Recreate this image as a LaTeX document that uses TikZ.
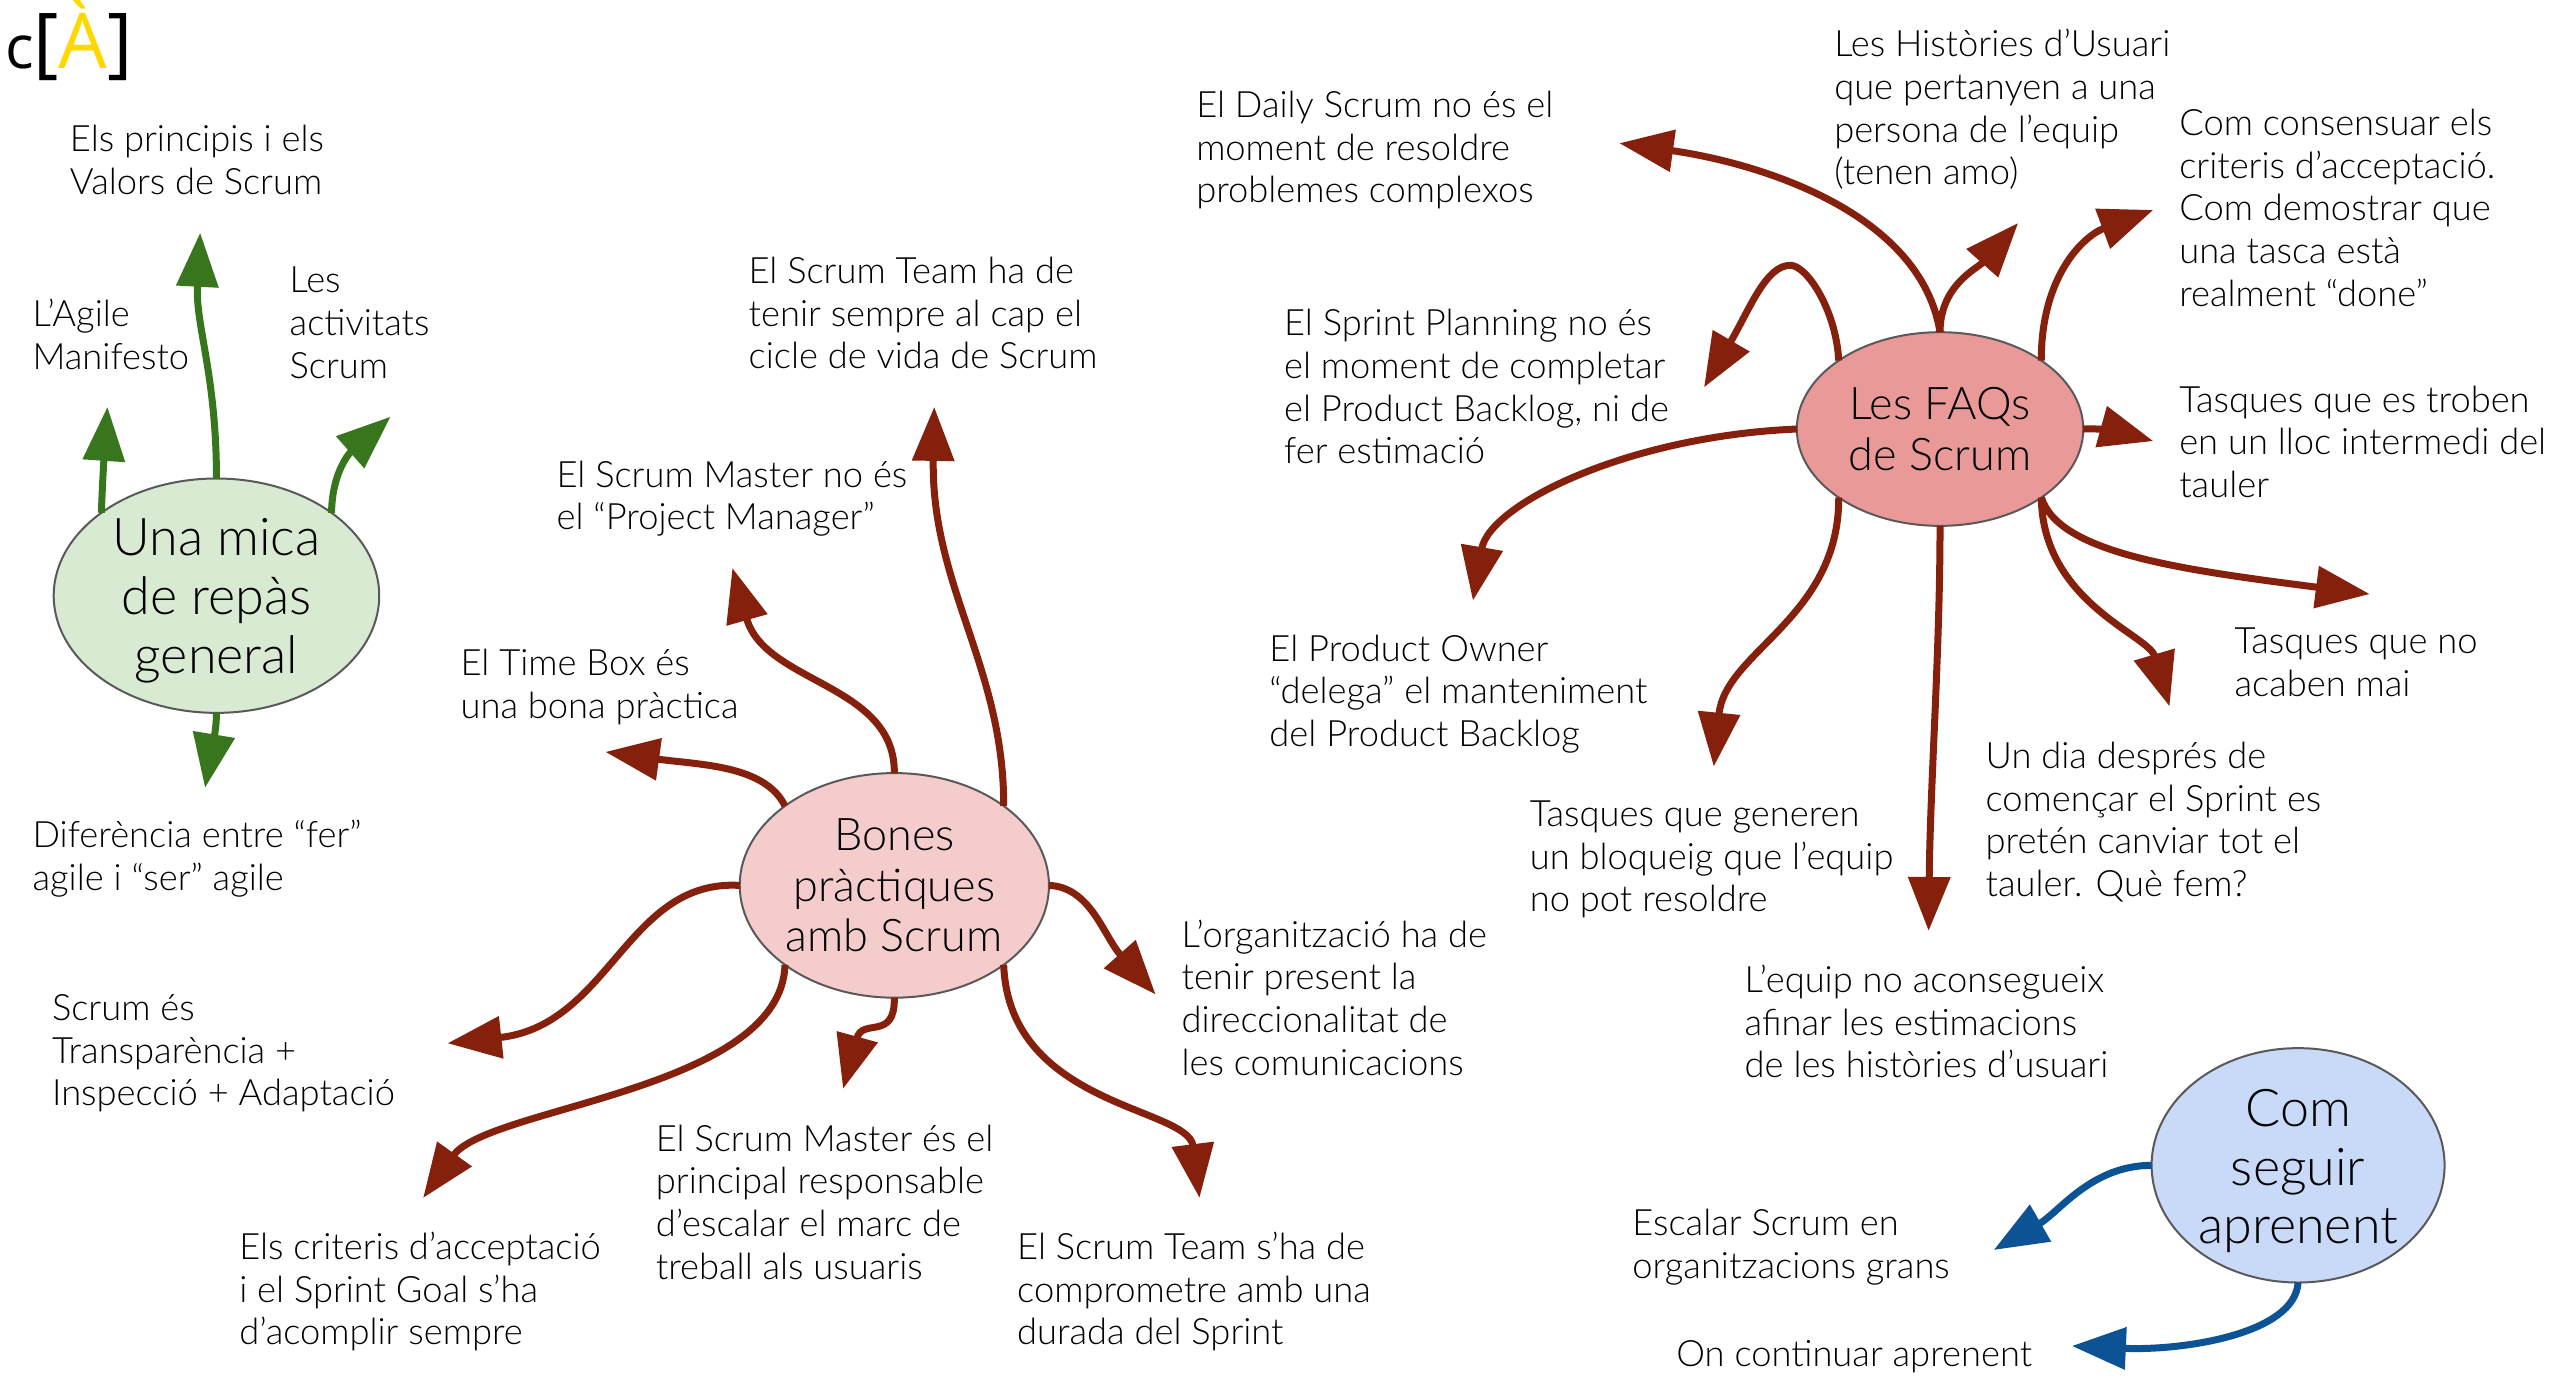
\documentclass[tikz,border=0pt]{standalone}
\usepackage{fontspec}
\setmainfont{Lato}[UprightFont=* Light]
\newfontfamily\logofont{Open Sans}
\usetikzlibrary{arrows.meta,shapes.geometric}
\definecolor{gr}{HTML}{38761D}
\definecolor{rd}{HTML}{85200C}
\definecolor{bl}{HTML}{0B5394}
\definecolor{logoy}{HTML}{FFD800}
\definecolor{hubgreen}{HTML}{D9EAD3}
\definecolor{hubpink}{HTML}{F4CCCC}
\definecolor{hubred}{HTML}{EA9999}
\definecolor{hubblue}{HTML}{C9DAF8}
\tikzset{
  x=1.6275pt,y=-1.6275pt,
  txt/.style={anchor=north west,inner sep=0,outer sep=0,align=left,text=black,
    font=\fontsize{36.3}{42.7}\selectfont,execute at begin node=\strut,execute at end node=\strut},
  hub/.style={ellipse,draw=black!65,line width=2pt,inner sep=0,outer sep=0,align=center},
  hubA/.style={hub,font=\fontsize{52}{58.6}\selectfont},
  hubB/.style={hub,font=\fontsize{45}{50.5}\selectfont},
  hubLabel/.style={inner sep=0,outer sep=0,align=center,font=\fontsize{52}{58.6}\selectfont},
  arr/.style={line width=7pt,-{Triangle[length=54pt,width=41pt]}},
  ga/.style={arr,gr},ra/.style={arr,rd},ba/.style={arr,bl}
}
\begin{document}
\begin{tikzpicture}
\useasboundingbox (0,0) rectangle (1567.4,846.1);
\node[anchor=base west,inner sep=0] (logo) at (3,41.8) {\logofont\fontsize{60}{60}\selectfont c\fontsize{77}{77}\selectfont[\textcolor{logoy}{À}]};

\node[hubA,fill=hubgreen,minimum width=200*1.6275pt,minimum height=144*1.6275pt,
  label={[hubLabel,yshift=-5pt]center:Una mica\\de repàs\\general}] (mica) at (133,366) {};
\node[hubB,fill=hubpink,minimum width=190*1.6275pt,minimum height=138*1.6275pt] (bones) at (549.5,544) {Bones\\pràctiques\\amb Scrum};
\node[hubB,fill=hubred,minimum width=176*1.6275pt,minimum height=119*1.6275pt] (faq) at (1192,263.6) {Les FAQs\\de Scrum};
\node[hubA,fill=hubblue,minimum width=180*1.6275pt,minimum height=144*1.6275pt,
  label={[hubLabel,yshift=-6pt]center:Com\\seguir\\aprenent}] (seguir) at (1412,716) {};

\coordinate (g1) at (123,143);
\coordinate (g2) at (66,250);
\coordinate (g3) at (240,256);
\coordinate (g4) at (126,484);
\draw[ga] (mica.north) .. controls (133,230) and (120,200) .. (g1);
\draw[ga] (mica.north west) .. controls (63,295) and (64,280) .. (g2);
\draw[ga] (mica.north east) .. controls (204,290) and (215,278) .. (g3);
\draw[ga] (mica.south) .. controls (133,450) and (130,460) .. (g4);

\coordinate (b1) at (450,349);
\coordinate (b2) at (574,250);
\coordinate (b3) at (372,462);
\coordinate (b4) at (275,641);
\coordinate (b5) at (260,736);
\coordinate (b6) at (518,669);
\coordinate (b7) at (737,736);
\coordinate (b8) at (710,611);
\draw[ra] (bones.north) .. controls (550,420) and (470,420) .. (b1);
\draw[ra] (bones.north east) .. controls (617,410) and (572,360) .. (b2);
\draw[ra] (bones.north west) .. controls (470,470) and (430,470) .. (b3);
\draw[ra] (bones.west) .. controls (385,540) and (375,630) .. (b4);
\draw[ra] (bones.south west) .. controls (480,670) and (300,680) .. (b5);
\draw[ra] (bones.south) .. controls (550,640) and (530,625) .. (b6);
\draw[ra] (bones.south east) .. controls (620,680) and (730,680) .. (b7);
\draw[ra] (bones.east) .. controls (670,545) and (678,575) .. (b8);

\coordinate (f1) at (995,88);
\coordinate (f2) at (1240,137);
\coordinate (f3) at (1047,238);
\coordinate (f4) at (1323,129);
\coordinate (f5) at (1323,271);
\coordinate (f6) at (905,369);
\coordinate (f7) at (1053,471);
\coordinate (f8) at (1185,572);
\coordinate (f9) at (1333,434);
\coordinate (f10) at (1456,365);
\draw[ra] (faq.north) .. controls (1180,130) and (1080,100) .. (f1);
\draw[ra] (faq.north) .. controls (1192,175) and (1215,165) .. (f2);
\draw[ra] (faq.north west) .. controls (1128,190) and (1110,163) .. (1100,163) .. controls (1085,163) and (1075,190) .. (f3);
\draw[ra] (faq.north east) .. controls (1254,170) and (1280,145) .. (f4);
\draw[ra] (faq.east) .. controls (1295,263) and (1305,266) .. (f5);
\draw[ra] (faq.west) .. controls (1000,268) and (915,310) .. (f6);
\draw[ra] (faq.south west) .. controls (1130,380) and (1060,400) .. (f7);
\draw[ra] (faq.south) .. controls (1192,400) and (1186,480) .. (f8);
\draw[ra] (faq.south east) .. controls (1255,370) and (1320,390) .. (f9);
\draw[ra] (faq.south east) .. controls (1265,340) and (1340,350) .. (f10);

\coordinate (s1) at (1225,768);
\coordinate (s2) at (1273,827);
\draw[ba] (seguir.west) .. controls (1285,716) and (1265,745) .. (s1);
\draw[ba] (seguir.south) .. controls (1410,820) and (1340,830) .. (s2);

\node[txt] (t1) at (43,77) {Els principis i els\\Valors de Scrum};
\node[txt] (t2) at (20,184) {L’Agile\\Manifesto};
\node[txt] (t3) at (178,164) {Les\\activitats\\Scrum};
\node[txt] (t4) at (20,504) {Diferència entre “fer”\\agile i “ser” agile};
\node[txt] (t5) at (460,158) {El Scrum Team ha de\\tenir sempre al cap el\\cicle de vida de Scrum};
\node[txt] (t6) at (342,283) {El Scrum Master no és\\el “Project Manager”};
\node[txt] (t7) at (283,399) {El Time Box és\\una bona pràctica};
\node[txt] (t8) at (32,611) {Scrum és\\Transparència +\\Inspecció + Adaptació};
\node[txt] (t9) at (147,757) {Els criteris d’acceptació\\i el Sprint Goal s’ha\\d’acomplir sempre};
\node[txt] (t10) at (403,691) {El Scrum Master és el\\principal responsable\\d’escalar el marc de\\treball als usuaris};
\node[txt] (t11) at (625,757) {El Scrum Team s’ha de\\comprometre amb una\\durada del Sprint};
\node[txt] (t12) at (726,565) {L’organització ha de\\tenir present la\\direccionalitat de\\les comunicacions};
\node[txt] (t13) at (735,56) {El Daily Scrum no és el\\moment de resoldre\\problemes complexos};
\node[txt] (t14) at (1127,18) {Les Històries d’Usuari\\que pertanyen a una\\persona de l’equip\\(tenen amo)};
\node[txt] (t15) at (1339,67) {Com consensuar els\\criteris d’acceptació.\\Com demostrar que\\una tasca està\\realment “done”};
\node[txt] (t16) at (789,190) {El Sprint Planning no és\\el moment de completar\\el Product Backlog, ni de\\fer estimació};
\node[txt] (t17) at (1339,237) {Tasques que es troben\\en un lloc intermedi del\\tauler};
\node[txt] (t18) at (780,390) {El Product Owner\\“delega” el manteniment\\del Product Backlog};
\node[txt] (t19) at (1373,386) {Tasques que no\\acaben mai};
\node[txt] (t20) at (1220,456) {Un dia després de\\començar el Sprint es\\pretén canviar tot el\\tauler. Què fem?};
\node[txt] (t21) at (940,492) {Tasques que generen\\un bloqueig que l’equip\\no pot resoldre};
\node[txt] (t22) at (1072,593) {L’equip no aconsegueix\\afinar les estimacions\\de les històries d’usuari};
\node[txt] (t23) at (1003,743) {Escalar Scrum en\\organitzacions grans};
\node[txt] (t24) at (1030,821) {On continuar aprenent};
\end{tikzpicture}
\end{document}
